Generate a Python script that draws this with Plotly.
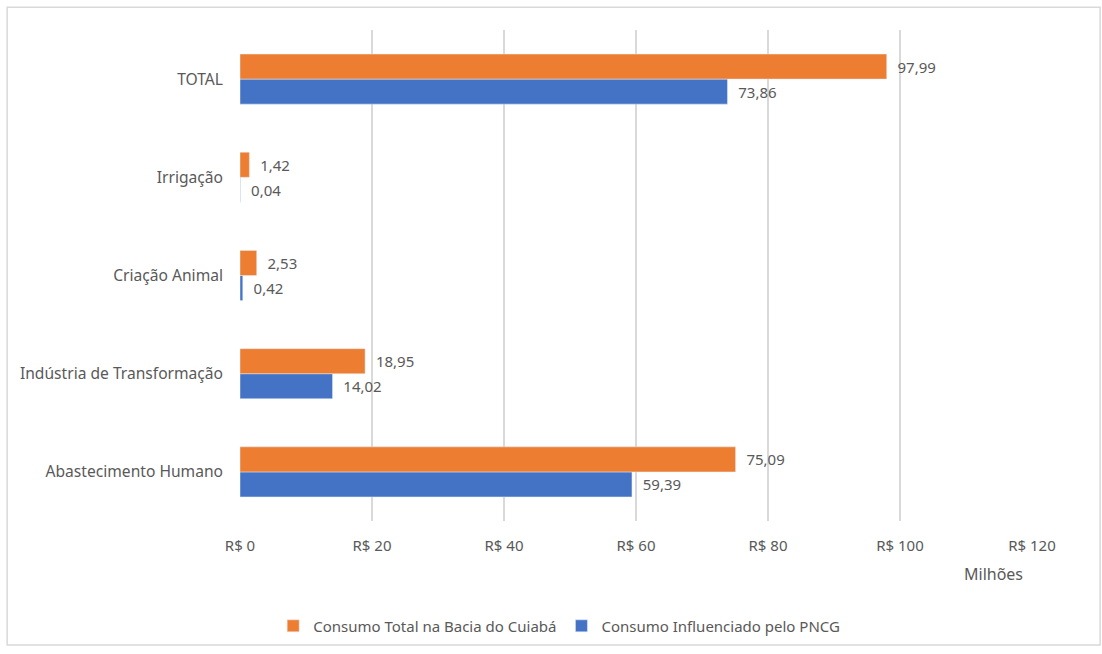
import plotly.graph_objects as go

categories = ["Abastecimento Humano", "Indústria de Transformação", "Criação Animal", "Irrigação", "TOTAL"]
consumo_total = [75.09, 18.95, 2.53, 1.42, 97.99]
consumo_pncg = [59.39, 14.02, 0.42, 0.04, 73.86]
series_names = ["Consumo Total na Bacia do Cuiabá", "Consumo Influenciado pelo PNCG"]
x_ticks = [0, 20, 40, 60, 80, 100, 120]
x_tick_labels = ["R$ 0", "R$ 20", "R$ 40", "R$ 60", "R$ 80", "R$ 100", "R$ 120"]

def fmt(v):
    return "\u00a0\u00a0" + f"{v:.2f}".replace(".", ",")

FONT = "Noto Sans"
GREY = "#595959"
FS = 15

fig = go.Figure()
fig.add_trace(go.Bar(
    y=categories, x=consumo_pncg, orientation="h", name=series_names[1],
    marker_color="#4472C4", text=[fmt(v) for v in consumo_pncg],
    textposition="outside", textfont=dict(size=FS, color=GREY, family=FONT),
    cliponaxis=False, legendrank=2,
))
fig.add_trace(go.Bar(
    y=categories, x=consumo_total, orientation="h", name=series_names[0],
    marker_color="#ED7D31", text=[fmt(v) for v in consumo_total],
    textposition="outside", textfont=dict(size=FS, color=GREY, family=FONT),
    cliponaxis=False, legendrank=1,
))

fig.update_layout(
    width=1102, height=654,
    margin=dict(l=240, r=70, t=30, b=129),
    barmode="group", bargap=0.49, bargroupgap=0,
    plot_bgcolor="white", paper_bgcolor="white",
    font=dict(family=FONT, size=FS, color=GREY),
    showlegend=True,
    legend=dict(orientation="h", x=0.403, y=-0.214, xanchor="center", yanchor="middle",
                font=dict(size=FS, color=GREY, family=FONT), itemwidth=30,
                traceorder="normal"),
    xaxis=dict(range=[0, 120], tickvals=x_ticks, ticktext=x_tick_labels,
               showgrid=True, gridcolor="#D9D9D9", gridwidth=1.5,
               zeroline=False, showline=False, ticks="",
               ticklabelstandoff=14, tickfont=dict(size=FS, color=GREY)),
    yaxis=dict(showgrid=False, zeroline=False, showline=False, ticks="",
               ticklabelstandoff=16, tickfont=dict(size=15.6, color=GREY),
               categoryorder="array", categoryarray=categories),
)

fig.add_annotation(text="Milhões", x=0.951, y=-0.107, xref="paper", yref="paper",
                   showarrow=False, font=dict(size=16, color=GREY, family=FONT),
                   xanchor="center", yanchor="middle")

fig.add_shape(type="rect", xref="paper", yref="paper",
              x0=-0.294, x1=1.086, y0=-0.2525, y1=1.0465,
              line=dict(color="#D9D9D9", width=1.5), layer="below")

fig.write_html("out.html")
